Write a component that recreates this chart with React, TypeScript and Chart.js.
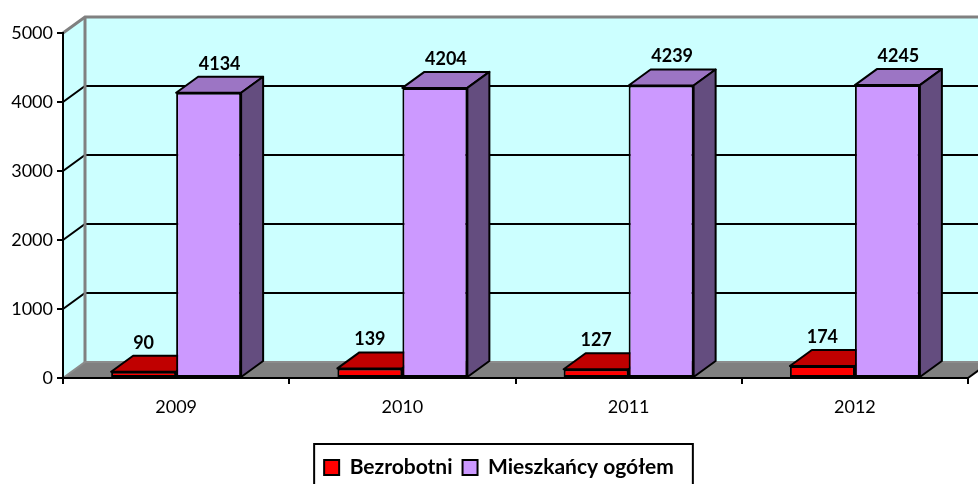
import React, { useEffect, useRef } from 'react';
import { Chart, registerables } from 'chart.js';

Chart.register(...registerables);

const categories = ['2009', '2010', '2011', '2012'];
const unemployed = [90, 139, 127, 174];
const residents = [4134, 4204, 4239, 4245];
const yTickValues = [0, 1000, 2000, 3000, 4000, 5000];
const seriesNames = ['Bezrobotni', 'Mieszkańcy ogółem'];

const DX = 22;
const DY = -16;
const FONT = 'Lato, "Open Sans", "DejaVu Sans", sans-serif';
const LEGEND_SHIFT = 15;

function poly(ctx: CanvasRenderingContext2D, pts: number[][], fill?: string, stroke?: string, lw = 2) {
  ctx.beginPath();
  ctx.moveTo(pts[0][0], pts[0][1]);
  for (let i = 1; i < pts.length; i++) ctx.lineTo(pts[i][0], pts[i][1]);
  ctx.closePath();
  if (fill) {
    ctx.fillStyle = fill;
    ctx.fill();
  }
  if (stroke) {
    ctx.strokeStyle = stroke;
    ctx.lineWidth = lw;
    ctx.stroke();
  }
}

function line(ctx: CanvasRenderingContext2D, pts: number[][], color: string, lw: number) {
  ctx.beginPath();
  ctx.moveTo(pts[0][0], pts[0][1]);
  for (let i = 1; i < pts.length; i++) ctx.lineTo(pts[i][0], pts[i][1]);
  ctx.strokeStyle = color;
  ctx.lineWidth = lw;
  ctx.stroke();
}

const threeD = {
  id: 'threeD',
  afterLayout(chart: any) {
    const lg = chart.legend;
    if (lg) {
      lg.left += LEGEND_SHIFT;
      lg.right += LEGEND_SHIFT;
    }
  },
  beforeDraw(chart: any) {
    const { ctx, chartArea: a, scales } = chart;
    const y = scales.y;
    const L = a.left, R = a.right, T = a.top, B = a.bottom;
    ctx.save();
    ctx.lineJoin = 'miter';
    // back wall
    poly(ctx, [[L + DX, T + DY], [R + DX, T + DY], [R + DX, B + DY], [L + DX, B + DY]], '#CCFFFF');
    // left wall
    poly(ctx, [[L, T], [L + DX, T + DY], [L + DX, B + DY], [L, B]], '#CCFFFF');
    // floor
    poly(ctx, [[L, B], [L + DX, B + DY], [R + DX, B + DY], [R, B]], '#808080');
    // gridlines on the walls
    const ticks = y.ticks;
    for (let i = 1; i < ticks.length - 1; i++) {
      const py = y.getPixelForValue(ticks[i].value);
      line(ctx, [[L, py], [L + DX, py + DY], [R + DX, py + DY]], '#000000', 2);
    }
    // wall edges
    line(ctx, [[L, T], [L + DX, T + DY], [R + DX, T + DY]], '#808080', 3);
    line(ctx, [[L + DX, T + DY], [L + DX, B + DY]], '#808080', 3);
    line(ctx, [[L, B], [L + DX, B + DY], [R + DX, B + DY]], '#8c8c8c', 2);
    // floor right edge
    line(ctx, [[R, B], [R + DX, B + DY]], '#000000', 2);
    ctx.restore();
  },
  beforeDatasetsDraw(chart: any) {
    const { ctx } = chart;
    ctx.save();
    ctx.lineJoin = 'round';
    chart.data.datasets.forEach((ds: any, i: number) => {
      const meta = chart.getDatasetMeta(i);
      meta.data.forEach((bar: any) => {
        const { x, y, base, width } = bar.getProps(['x', 'y', 'base', 'width'], true);
        const l = x - width / 2;
        const r = x + width / 2;
        poly(ctx, [[l, y], [l + DX, y + DY], [r + DX, y + DY], [r, y]], ds.topColor, '#000000', 2);
        poly(ctx, [[r, y], [r + DX, y + DY], [r + DX, base + DY], [r, base]], ds.sideColor, '#000000', 2);
      });
    });
    ctx.restore();
  },
  afterDatasetsDraw(chart: any) {
    const { ctx } = chart;
    ctx.save();
    ctx.font = 'bold 18px ' + FONT;
    ctx.fillStyle = '#000000';
    ctx.textAlign = 'center';
    ctx.textBaseline = 'middle';
    chart.data.datasets.forEach((ds: any, i: number) => {
      const meta = chart.getDatasetMeta(i);
      meta.data.forEach((bar: any, j: number) => {
        const { x, y } = bar.getProps(['x', 'y'], true);
        ctx.fillText(String(ds.data[j]), x + ds.labelShift, y + DY - 13);
      });
    });
    ctx.restore();
  },
  afterDraw(chart: any) {
    const lg = chart.legend;
    if (!lg || !lg.legendHitBoxes || !lg.legendHitBoxes.length) return;
    const hb = lg.legendHitBoxes;
    let minL = Infinity, maxR = -Infinity;
    hb.forEach((h: any) => {
      minL = Math.min(minL, h.left);
      maxR = Math.max(maxR, h.left + h.width);
    });
    const top = hb[0].top - 13;
    const { ctx } = chart;
    ctx.save();
    ctx.strokeStyle = '#000000';
    ctx.lineWidth = 2;
    ctx.strokeRect(minL - 10, top, maxR - minL + 29, 60);
    ctx.restore();
  },
};

export default function App() {
  const ref = useRef<HTMLCanvasElement | null>(null);
  useEffect(() => {
    if (!ref.current) return;
    Chart.defaults.font.family = FONT;
    const chart = new Chart(ref.current, {
      type: 'bar',
      data: {
        labels: categories,
        datasets: [
          {
            label: seriesNames[0],
            data: unemployed,
            backgroundColor: '#FF0000',
            borderColor: '#000000',
            borderWidth: 2,
            borderSkipped: false,
            clip: false,
            topColor: '#C00000',
            sideColor: '#800000',
            labelShift: 0,
          } as any,
          {
            label: seriesNames[1],
            data: residents,
            backgroundColor: '#CC99FF',
            borderColor: '#000000',
            borderWidth: 2,
            borderSkipped: false,
            clip: false,
            topColor: '#9C75C4',
            sideColor: '#644D7F',
            labelShift: DX / 2,
          } as any,
        ],
      },
      options: {
        responsive: false,
        animation: false,
        categoryPercentage: 0.5746,
        barPercentage: 1,
        layout: { padding: { left: 0, right: 10, top: 33, bottom: -4 } },
        plugins: {
          tooltip: { enabled: false },
          legend: {
            position: 'bottom',
            labels: {
              color: '#000000',
              font: { size: 21, weight: 'bold', family: FONT },
              boxWidth: 15,
              boxHeight: 15,
              padding: 10,
            },
          },
        },
        scales: {
          x: {
            type: 'category',
            offset: true,
            grid: {
              display: true,
              offset: true,
              drawOnChartArea: false,
              drawTicks: true,
              tickLength: 6,
              color: '#000000',
              lineWidth: 2,
            },
            border: { display: true, color: '#000000', width: 2 },
            ticks: { color: '#000000', font: { size: 18, family: FONT }, padding: 12 },
            afterFit: (s: any) => {
              s.height = 69;
            },
          },
          y: {
            min: yTickValues[0],
            max: yTickValues[yTickValues.length - 1],
            ticks: {
              stepSize: yTickValues[1] - yTickValues[0],
              color: '#000000',
              font: { size: 18, family: FONT },
              padding: 4,
              callback: (v: any) => String(v),
            },
            grid: {
              display: true,
              drawOnChartArea: false,
              drawTicks: true,
              tickLength: 6,
              color: '#000000',
              lineWidth: 2,
            },
            border: { display: true, color: '#000000', width: 2 },
            afterFit: (s: any) => {
              s.width = 63;
            },
          },
        },
      } as any,
      plugins: [threeD],
    });
    return () => chart.destroy();
  }, []);
  return (
    <div style={{ position: 'absolute', left: 0, top: 0, width: 978, height: 484 }}>
      <canvas ref={ref} width={978} height={484} style={{ display: 'block' }} />
    </div>
  );
}
